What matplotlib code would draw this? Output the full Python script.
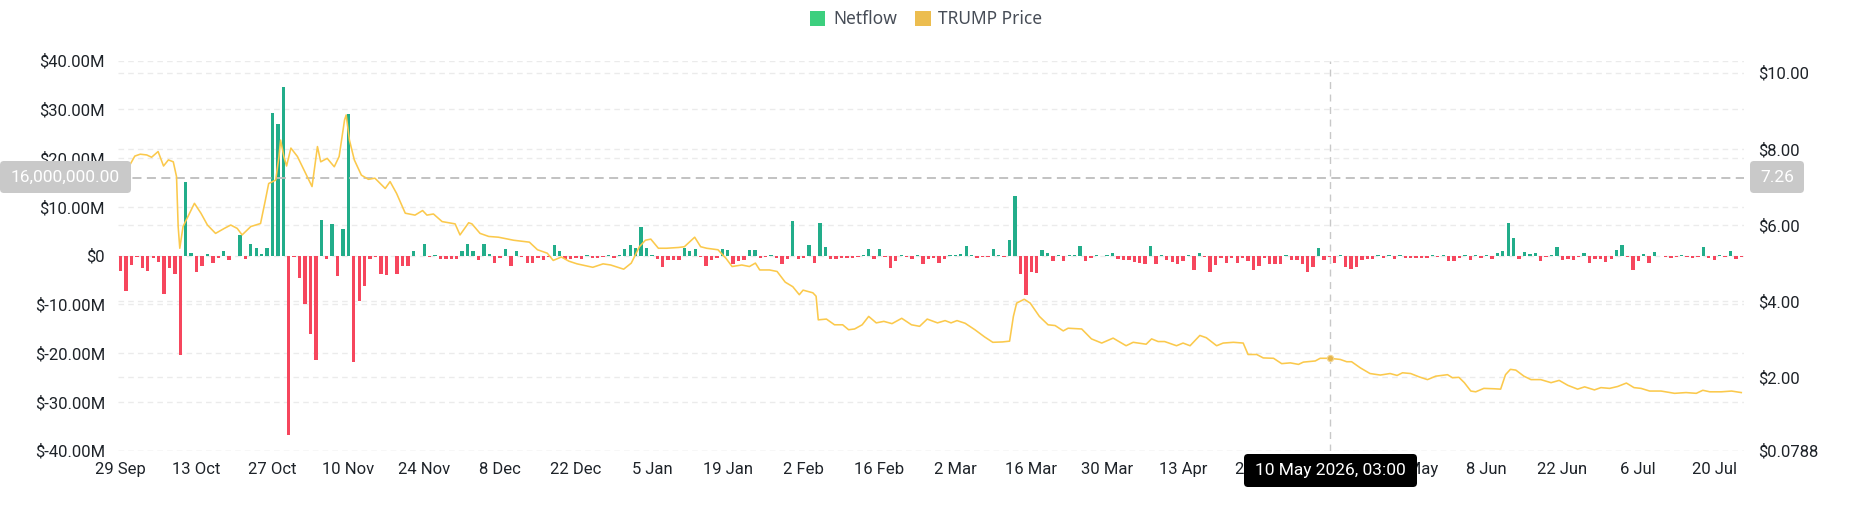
import matplotlib
matplotlib.use('Agg')
import matplotlib.pyplot as plt
import pandas as pd
from matplotlib.patches import FancyBboxPatch, Rectangle
from matplotlib.transforms import blended_transform_factory, IdentityTransform

plt.rcParams['font.family'] = ['Roboto', 'DejaVu Sans']

# ---------------- data ----------------
start_date = '2025-09-29'
netflow_m = [
    -3.1, -7.2, -1.9, -0.3, -2.6, -3.1, -0.5, -1.4, -7.9, -2.6,
    -3.8, -20.4, 15.1, 0.6, -3.3, -2.2, 0.3, -1.5, -0.5, 1.0,
    -1.0, -0.1, 4.3, -0.8, 2.3, 1.6, 0.4, 1.6, 29.3, 27.1,
    34.5, -36.9, -0.2, -4.6, -9.9, -16.1, -21.4, 7.4, -0.8, 6.4,
    -4.1, 5.4, 29.1, -21.8, -9.4, -6.2, -0.8, -0.2, -3.8, -4.0,
    -0.1, -3.8, -2.2, -2.1, 0.9, -0.1, 2.3, -0.3, 0.1, -0.7,
    -0.7, -0.7, -0.8, 1.0, 2.3, 1.0, -1.0, 2.3, 0.3, -1.6,
    -0.5, 1.4, -2.1, 0.9, -0.3, -1.5, -1.6, -0.4, -1.0, -0.3,
    2.1, 1.0, -0.8, -0.6, -0.5, -0.7, 0.2, -0.4, -0.5, -0.3,
    0.2, -0.4, 0.2, 1.4, 2.2, 1.6, 5.8, 1.6, 0.2, -0.7,
    -2.4, -0.9, -0.9, -0.9, 1.6, 1.0, 1.4, -0.3, -2.1, -1.0,
    -0.4, 1.4, 1.2, -1.8, -1.2, -1.0, 1.2, 1.2, -0.4, -0.3,
    0.1, -0.4, -1.8, -0.8, 7.2, -0.6, -0.4, 2.1, -1.6, 6.6,
    1.7, -0.7, -0.7, -0.5, -0.5, -0.4, -0.3, 0.2, 1.3, -0.6,
    1.3, -0.2, -2.6, -1.2, 0.2, -0.2, -0.6, 0.1, -1.8, -0.6,
    -0.4, -1.6, -0.6, 0.1, 0.2, 0.3, 2.0, 0.1, -0.5, -0.3,
    -0.3, 1.3, 0.2, -0.2, 3.3, 12.2, -3.8, -8.0, -3.4, -3.6,
    1.2, 0.5, -1.2, 0.1, -1.2, 0.1, 0.2, 2.0, -1.2, -0.4,
    0.2, -0.1, 0.1, 0.6, -0.8, -0.9, -1.0, -1.4, -1.5, -1.7,
    2.0, -1.8, 0.2, -1.0, -1.4, -1.7, -1.2, 0.2, -3.0, 0.5,
    -0.3, -3.4, -2.0, -0.5, -1.5, -0.5, -1.5, -0.5, -1.2, -3.0,
    -2.2, -0.5, -1.8, -1.8, -1.7, 0.1, -1.0, -1.0, -1.8, -3.4,
    -2.3, 1.6, -1.0, -0.2, -1.5, 0.2, -2.3, -2.8, -2.3, -0.9,
    -0.8, -0.6, 0.1, -0.5, 0.1, -0.7, 0.2, -0.5, -0.4, -0.5,
    -0.5, -0.5, 0.2, -0.3, 0.2, -1.2, -1.2, -0.5, 0.1, -0.9,
    0.1, -0.5, 0.1, -0.6, 0.5, 0.9, 6.6, 3.7, -0.8, 0.7,
    0.3, 0.6, -1.2, -0.3, 0.1, 1.7, -0.9, -0.8, -0.9, -0.3,
    0.5, -1.6, -0.8, -0.8, -1.4, -0.6, 1.1, 2.1, -0.2, -3.0,
    -1.2, 0.3, -1.6, 0.8, -0.1, -0.2, -0.5, -0.3, 0.1, -0.3,
    -0.5, -0.3, 1.7, -0.5, -0.9, 0.1, -0.3, 0.9, -0.6, -0.2,
]

price_day = [
    1.7, 2.6, 3.6, 4.8, 5.7, 6.9, 7.9, 8.8, 9.7, 10.3, 10.6, 10.9, 11.5, 12.7,
    13.6, 14.8, 16.0, 17.5, 19.1, 20.3, 21.5, 22.4, 24.0, 25.8, 26.7, 27.3,
    28.6, 29.2, 29.5, 30.1, 30.6, 31.4, 32.6, 33.8, 35.3, 36.3, 36.9, 38.1,
    39.4, 40.3, 41.3, 41.6, 42.2, 43.1, 44.4, 45.7, 46.9, 48.8, 49.7, 50.9,
    52.5, 54.3, 55.7, 56.5, 57.7, 59.3, 61.7, 62.6, 64.2, 64.8, 66.3, 67.9,
    69.7, 72.5, 75.4, 76.9, 78.7, 79.8, 81.3, 82.7, 84.2, 87.1, 89.0, 90.4,
    92.8, 94.2, 95.7, 96.8, 97.8, 99.2, 100.7, 102.9, 104.0, 105.9, 107.0,
    108.1, 110.2, 111.7, 112.8, 114.6, 116.0, 117.1, 117.9, 119.7, 121.1,
    122.6, 124.0, 125.2, 125.9, 127.7, 128.3, 128.7, 130.2, 131.7, 133.2,
    134.3, 135.4, 136.8, 138.0, 139.4, 140.8, 142.3, 144.1, 145.9, 147.4,
    148.8, 150.7, 152.1, 153.2, 154.3, 155.8, 157.6, 159.4, 160.9, 162.7,
    164.0, 164.7, 165.3, 166.7, 167.8, 169.5, 171.1, 172.4, 173.9, 174.8,
    177.3, 179.1, 181.0, 183.1, 185.5, 186.8, 189.2, 190.2, 191.4, 192.6,
    194.8, 196.0, 197.3, 199.1, 200.3, 202.2, 203.4, 205.3, 207.1, 208.0,
    209.6, 210.8, 212.7, 214.2, 215.8, 217.3, 218.2, 220.4, 221.3, 223.1,
    225.0, 226.2, 227.1, 228.7, 230.5, 232.4, 234.2, 235.5, 236.5, 238.0,
    239.6, 241.1, 242.6, 244.8, 245.7, 246.9, 247.9, 249.1, 250.0, 251.5,
    253.4, 254.6, 255.5, 256.4, 257.4, 258.9, 260.2, 262.0, 263.9, 265.4,
    267.0, 268.8, 270.1, 271.9, 273.1, 274.7, 276.2, 277.8, 279.2, 280.5,
    282.1, 284.2, 286.7, 288.8, 290.7, 291.9, 293.2, 295.3, 297.2, 299.0,
]
price_val = [
    7.58, 7.81, 7.86, 7.84, 7.78, 7.93, 7.55, 7.71, 7.66, 7.27, 5.96, 5.39, 5.96, 6.31,
    6.57, 6.31, 6.00, 5.78, 5.91, 6.00, 5.91, 5.74, 5.96, 6.04, 6.66, 7.09,
    7.18, 7.80, 8.23, 7.80, 7.55, 8.02, 7.80, 7.45, 7.01, 8.06, 7.66, 7.75,
    7.53, 7.80, 8.76, 8.89, 8.23, 7.71, 7.31, 7.20, 7.23, 6.96, 7.14, 6.83,
    6.31, 6.26, 6.38, 6.26, 6.29, 6.09, 6.03, 5.74, 6.06, 6.03, 5.78, 5.70,
    5.68, 5.60, 5.55, 5.35, 5.26, 5.07, 5.16, 5.05, 4.98, 4.89, 4.98, 4.95,
    4.84, 5.00, 5.43, 5.60, 5.63, 5.39, 5.39, 5.41, 5.43, 5.68, 5.43,
    5.39, 5.35, 5.12, 4.91, 4.95, 4.91, 5.00, 4.82, 4.82, 4.78,
    4.50, 4.38, 4.17, 4.29, 4.22, 4.13, 3.51, 3.53, 3.38, 3.38,
    3.25, 3.27, 3.38, 3.60, 3.43, 3.47, 3.41, 3.55, 3.38, 3.34,
    3.53, 3.43, 3.49, 3.43, 3.49, 3.42, 3.25, 3.06, 2.92, 2.93,
    2.95, 3.60, 3.95, 4.05, 3.95, 3.60, 3.38, 3.36, 3.22, 3.29,
    3.27, 3.01, 2.90, 3.03, 2.83, 2.92, 2.87, 3.01, 2.94, 2.94,
    2.83, 2.90, 2.83, 3.10, 3.04, 2.83, 2.90, 2.92, 2.90, 2.60,
    2.60, 2.51, 2.50, 2.36, 2.38, 2.34, 2.40, 2.43, 2.50, 2.50,
    2.47, 2.41, 2.41, 2.25, 2.10, 2.06, 2.10, 2.05, 2.12, 2.10,
    2.01, 1.94, 2.03, 2.07, 1.99, 2.00, 1.86, 1.64, 1.62, 1.71,
    1.70, 1.69, 2.07, 2.21, 2.19, 2.03, 1.94, 1.94, 1.86, 1.92,
    1.79, 1.69, 1.75, 1.67, 1.73, 1.71, 1.76, 1.85, 1.73, 1.71,
    1.64, 1.64, 1.58, 1.60, 1.58, 1.66, 1.62, 1.62, 1.64, 1.60,
]

x_tick_labels = ['29 Sep', '13 Oct', '27 Oct', '10 Nov', '24 Nov', '8 Dec', '22 Dec',
                 '5 Jan', '19 Jan', '2 Feb', '16 Feb', '2 Mar', '16 Mar', '30 Mar',
                 '13 Apr', '27 Apr', '11 May', '25 May', '8 Jun', '22 Jun', '6 Jul', '20 Jul']
left_ticks_m = [-40, -30, -20, -10, 0, 10, 20, 30, 40]
left_tick_labels = ['$-40.00M', '$-30.00M', '$-20.00M', '$-10.00M', '$0',
                    '$10.00M', '$20.00M', '$30.00M', '$40.00M']
right_ticks = [0.0788, 2, 4, 6, 8, 10]
right_tick_labels = ['$0.0788', '$2.00', '$4.00', '$6.00', '$8.00', '$10.00']
price_max = 10.315

cross_time = '2026-05-10 03:00'
cross_price = 2.50
cross_left_value_m = 16
cross_left_label = '16,000,000.00'
cross_right_label = '7.26'
tooltip_label = '10 May 2026, 03:00'

# ---------------- figure ----------------
W, H = 1852, 525
fig = plt.figure(figsize=(W / 100, H / 100), dpi=100)
ax_l, ax_r, ax_t, ax_b = 118, 1744, 60.7, 450.5
ax = fig.add_axes([ax_l / W, 1 - ax_b / H, (ax_r - ax_l) / W, (ax_b - ax_t) / H])
ax2 = ax.twinx()

start = pd.Timestamp(start_date)
dates = pd.date_range(start, periods=len(netflow_m), freq='D')
vals = [v * 1e6 for v in netflow_m]
colors = ['#22ad8a' if v >= 0 else '#f6465d' for v in vals]
ax.bar(dates, vals, width=0.62, color=colors, linewidth=0, zorder=2)

price_dates = start + pd.to_timedelta(price_day, unit='D')
ax2.plot(price_dates, price_val, color='#fbc94c', lw=1.15, zorder=3,
         solid_joinstyle='round')

ax.set_xlim(start - pd.Timedelta(hours=12), start + pd.Timedelta(days=299.5))
ax.set_ylim(-40e6, 40e6)
ax2.set_ylim(right_ticks[0], price_max)

grid_kw = dict(color='#ebebeb', lw=1.0, ls=(0, (4, 3)), zorder=0)
for v in left_ticks_m:
    ax.axhline(v * 1e6, **grid_kw)
btr = blended_transform_factory(ax.transAxes, ax2.transData)
for p in right_ticks:
    ax.plot([0, 1], [p, p], transform=btr, **grid_kw)

tick_dates = pd.date_range(start, periods=len(x_tick_labels), freq='14D')
ax.set_xticks(tick_dates)
ax.set_xticklabels(x_tick_labels)
ax.set_yticks([v * 1e6 for v in left_ticks_m])
ax.set_yticklabels(left_tick_labels)
ax2.set_yticks(right_ticks)
ax2.set_yticklabels(right_tick_labels)

for a in (ax, ax2):
    for s in a.spines.values():
        s.set_visible(False)
ax.tick_params(axis='x', length=0, pad=8, labelsize=12, labelcolor='#1e2329')
ax.tick_params(axis='y', length=0, pad=9.4, labelsize=12, labelcolor='#1e2329')
ax2.tick_params(axis='y', length=0, pad=10, labelsize=12, labelcolor='#1e2329')

# crosshair
cross_dt = pd.Timestamp(cross_time)
ax.axhline(cross_left_value_m * 1e6, color='#bdbdbd', lw=1.3, ls=(0, (5, 3)), zorder=4)
ax.axvline(cross_dt, color='#c8c8c8', lw=1.0, ls=(0, (5, 4)), zorder=4)
ax2.plot([cross_dt], [cross_price], 'o', ms=4.5, color='#e6b54a',
         markeredgecolor='#f3d58e', markeredgewidth=0.8, zorder=5)


def px_box(x0, ytop, x1, ybot, color, r=4):
    p = FancyBboxPatch((x0, H - ybot), x1 - x0, ybot - ytop,
                       boxstyle='round,pad=0,rounding_size=%g' % r,
                       transform=IdentityTransform(), facecolor=color,
                       edgecolor='none', zorder=10)
    fig.add_artist(p)


px_box(0, 161, 131, 193, '#c9c9c9')
fig.text(65.5 / W, 1 - 177 / H, cross_left_label, color='white', fontsize=12.5,
         ha='center', va='center', zorder=11)
px_box(1750, 161, 1804, 193, '#c9c9c9')
fig.text(1777 / W, 1 - 177 / H, cross_right_label, color='white', fontsize=12.5,
         ha='center', va='center', zorder=11)
px_box(1244, 454, 1417, 487, '#000000')
fig.text(1330.5 / W, 1 - 470.5 / H, tooltip_label, color='white', fontsize=12.5,
         ha='center', va='center', zorder=11)

# legend
def px_rect(x0, ytop, w, h, color):
    fig.add_artist(Rectangle((x0, H - ytop - h), w, h, transform=IdentityTransform(),
                             facecolor=color, edgecolor='none'))


px_rect(810, 11, 15, 15, '#3ccf7e')
fig.text(833 / W, 1 - 18.5 / H, 'Netflow', color='#474d57', fontsize=12.5,
         ha='left', va='center', family=['Noto Sans', 'DejaVu Sans'])
px_rect(915, 11, 16, 15, '#ecbd4f')
fig.text(938 / W, 1 - 18.5 / H, 'TRUMP Price', color='#474d57', fontsize=12.5,
         ha='left', va='center', family=['Noto Sans', 'DejaVu Sans'])

fig.savefig('out.png', dpi=100)
